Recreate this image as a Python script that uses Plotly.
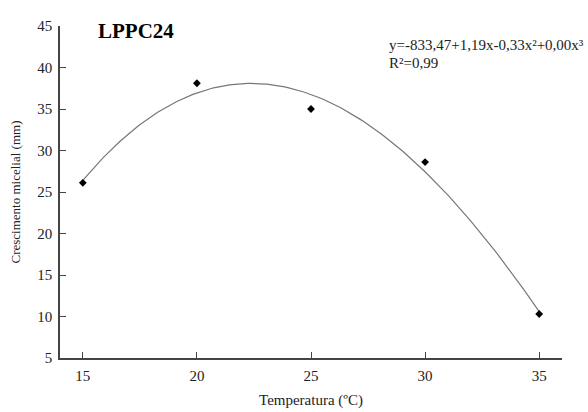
import numpy as np
import plotly.graph_objects as go

# Mycelial growth of LPPC24 at each incubation temperature
temperatura = [15, 20, 25, 30, 35]
crescimento = [26.1, 38.1, 35.0, 28.6, 10.3]

x_ticks = [15, 20, 25, 30, 35]
y_ticks = [5, 10, 15, 20, 25, 30, 35, 40, 45]

equacao = "y=-833,47+1,19x-0,33x²+0,00x³"
r2 = "R²=0,99"

# third-degree polynomial regression fitted to the observed means
coef = np.polyfit(temperatura, crescimento, 3)
x_fit = np.linspace(min(temperatura), max(temperatura), 200)
y_fit = np.polyval(coef, x_fit)

serif = "Liberation Serif, Times New Roman, serif"
axis_col = "#444444"
text_col = "#222222"

fig = go.Figure()
fig.add_trace(go.Scatter(
    x=x_fit, y=y_fit, mode="lines",
    line=dict(color="#777777", width=1.2),
    hoverinfo="skip", showlegend=False,
))
fig.add_trace(go.Scatter(
    x=temperatura, y=crescimento, mode="markers",
    marker=dict(symbol="diamond", size=6, color="black"),
    showlegend=False,
))

fig.add_annotation(
    x=0.072, y=0.985, xref="paper", yref="paper",
    xanchor="left", yanchor="middle", showarrow=False,
    text="<b>LPPC24</b>", font=dict(family=serif, size=21, color="black"),
)
fig.add_annotation(
    x=0.651, y=0.943, xref="paper", yref="paper",
    xanchor="left", yanchor="middle", showarrow=False,
    text=equacao, font=dict(family=serif, size=15, color=text_col),
)
fig.add_annotation(
    x=0.651, y=0.889, xref="paper", yref="paper",
    xanchor="left", yanchor="middle", showarrow=False,
    text=r2, font=dict(family=serif, size=15, color=text_col),
)

fig.update_layout(
    width=588, height=412,
    margin=dict(l=60, r=26, t=26, b=54),
    paper_bgcolor="white", plot_bgcolor="white",
    font=dict(family=serif, size=15, color=text_col),
    xaxis=dict(
        range=[14, 36], tickvals=x_ticks, ticks="inside", ticklen=6,
        tickcolor=axis_col, showline=True, linecolor=axis_col, linewidth=1.5,
        showgrid=False, zeroline=False, ticklabelstandoff=3, automargin=False,
        tickfont=dict(family=serif, size=15, color=text_col),
        title=dict(text="Temperatura (ºC)", standoff=12,
                   font=dict(family=serif, size=15, color=text_col)),
    ),
    yaxis=dict(
        range=[5, 45], tickvals=y_ticks, ticks="inside", ticklen=6,
        tickcolor=axis_col, showline=True, linecolor=axis_col, linewidth=1.5,
        showgrid=False, zeroline=False, automargin=False, ticklabelstandoff=3,
        tickfont=dict(family=serif, size=15, color=text_col),
        title=dict(text="Crescimento micelial (mm)", standoff=14,
                   font=dict(family=serif, size=13, color=text_col)),
    ),
)

fig.write_html("out.html")
